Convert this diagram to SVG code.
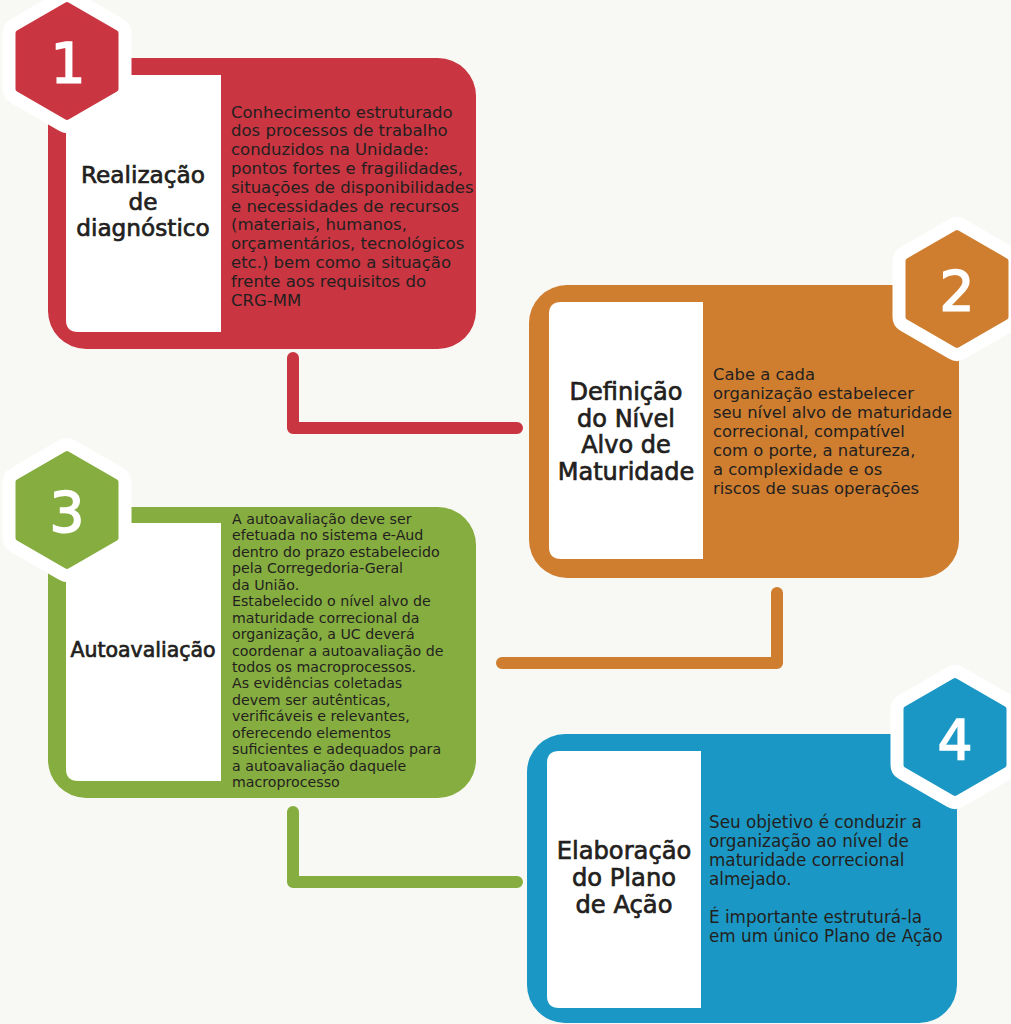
<svg xmlns="http://www.w3.org/2000/svg" width="1011" height="1024" viewBox="0 0 1011 1024">
<defs>
<style>
.bg{fill:#f8f8f4}
.panel{fill:#ffffff}
.title{font-family:"DejaVu Sans","Liberation Sans",sans-serif;fill:#231f20;stroke:#231f20;stroke-width:0.7;text-anchor:middle}
.body{font-family:"DejaVu Sans","Liberation Sans",sans-serif;fill:#231f20}
.num{font-family:"DejaVu Sans","Liberation Sans",sans-serif;fill:#ffffff;stroke:#ffffff;stroke-width:1.6;text-anchor:middle;font-size:55px}
.hexw{fill:#ffffff;stroke:#ffffff;stroke-width:32;stroke-linejoin:round}
.conn{fill:none;stroke-width:12;stroke-linecap:round;stroke-linejoin:round}
.red{fill:#c93540}
.orange{fill:#cf7e2f}
.green{fill:#86ad3f}
.blue{fill:#1a97c4}
</style>
<polygon id="hex" points="0,-56 48.5,-28 48.5,28 0,56 -48.5,28 -48.5,-28"/>
</defs>
<rect class="bg" x="0" y="0" width="1011" height="1024"/>

<g id="connectors">
<polyline class="conn" stroke="#c93540" points="293,358 293,428 517,428"/>
<polyline class="conn" stroke="#cf7e2f" points="777,593 777,663 502,663"/>
<polyline class="conn" stroke="#86ad3f" points="293,812 293,882 517,882"/>
</g>

<g id="node1">
<rect class="red" x="48" y="58" width="428" height="291" rx="38"/>
<path class="panel" d="M78,75 H221 V332 H78 Q66,332 66,320 V87 Q66,75 78,75 Z"/>
<text class="title" font-size="23.2"><tspan x="143" y="183">Realização</tspan><tspan x="143" y="209.5">de</tspan><tspan x="143" y="236">diagnóstico</tspan></text>
<text class="body" font-size="16.5">
<tspan x="231" y="117.5">Conhecimento estruturado</tspan>
<tspan x="231" y="136.3">dos processos de trabalho</tspan>
<tspan x="231" y="155.1">conduzidos na Unidade:</tspan>
<tspan x="231" y="173.9">pontos fortes e fragilidades,</tspan>
<tspan x="231" y="192.7">situações de disponibilidades</tspan>
<tspan x="231" y="211.5">e necessidades de recursos</tspan>
<tspan x="231" y="230.3">(materiais, humanos,</tspan>
<tspan x="231" y="249.1">orçamentários, tecnológicos</tspan>
<tspan x="231" y="267.9">etc.) bem como a situação</tspan>
<tspan x="231" y="286.7">frente aos requisitos do</tspan>
<tspan x="231" y="305.5">CRG-MM</tspan>
</text>
<use href="#hex" class="hexw" x="67" y="61"/>
<use href="#hex" class="red" x="67" y="61" stroke="#c93540" stroke-width="6" stroke-linejoin="round"/>
<text class="num" x="68" y="82">1</text>
</g>

<g id="node2">
<rect class="orange" x="529" y="285" width="430" height="293" rx="38"/>
<path class="panel" d="M561,302 H703 V559 H561 Q549,559 549,547 V314 Q549,302 561,302 Z"/>
<text class="title" font-size="24"><tspan x="626" y="400">Definição</tspan><tspan x="626" y="427">do Nível</tspan><tspan x="626" y="453">Alvo de</tspan><tspan x="626" y="480">Maturidade</tspan></text>
<text class="body" font-size="16.4">
<tspan x="713" y="380">Cabe a cada</tspan>
<tspan x="713" y="399">organização estabelecer</tspan>
<tspan x="713" y="418">seu nível alvo de maturidade</tspan>
<tspan x="713" y="437">correcional, compatível</tspan>
<tspan x="713" y="456">com o porte, a natureza,</tspan>
<tspan x="713" y="475">a complexidade e os</tspan>
<tspan x="713" y="494">riscos de suas operações</tspan>
</text>
<use href="#hex" class="hexw" x="957" y="289"/>
<use href="#hex" class="orange" x="957" y="289" stroke="#cf7e2f" stroke-width="6" stroke-linejoin="round"/>
<text class="num" x="957" y="310">2</text>
</g>

<g id="node3">
<rect class="green" x="48" y="507" width="428" height="291" rx="38"/>
<path class="panel" d="M78,523 H221 V781 H78 Q66,781 66,769 V535 Q66,523 78,523 Z"/>
<text class="title" font-size="20.5" x="143" y="657">Autoavaliação</text>
<text class="body" font-size="14.2">
<tspan x="232" y="524">A autoavaliação deve ser</tspan>
<tspan x="232" y="540.4">efetuada no sistema e-Aud</tspan>
<tspan x="232" y="556.9">dentro do prazo estabelecido</tspan>
<tspan x="232" y="573.3">pela Corregedoria-Geral</tspan>
<tspan x="232" y="589.8">da União.</tspan>
<tspan x="232" y="606.2">Estabelecido o nível alvo de</tspan>
<tspan x="232" y="622.6">maturidade correcional da</tspan>
<tspan x="232" y="639.1">organização, a UC deverá</tspan>
<tspan x="232" y="655.5">coordenar a autoavaliação de</tspan>
<tspan x="232" y="672">todos os macroprocessos.</tspan>
<tspan x="232" y="688.4">As evidências coletadas</tspan>
<tspan x="232" y="704.8">devem ser autênticas,</tspan>
<tspan x="232" y="721.3">verificáveis e relevantes,</tspan>
<tspan x="232" y="737.7">oferecendo elementos</tspan>
<tspan x="232" y="754.2">suficientes e adequados para</tspan>
<tspan x="232" y="770.6">a autoavaliação daquele</tspan>
<tspan x="232" y="787">macroprocesso</tspan>
</text>
<use href="#hex" class="hexw" x="67" y="510"/>
<use href="#hex" class="green" x="67" y="510" stroke="#86ad3f" stroke-width="6" stroke-linejoin="round"/>
<text class="num" x="67" y="531">3</text>
</g>

<g id="node4">
<rect class="blue" x="527" y="734" width="430" height="289" rx="38"/>
<path class="panel" d="M559,751 H701 V1008 H559 Q547,1008 547,996 V763 Q547,751 559,751 Z"/>
<text class="title" font-size="24.2"><tspan x="624" y="859">Elaboração</tspan><tspan x="624" y="886">do Plano</tspan><tspan x="624" y="913">de Ação</tspan></text>
<text class="body" font-size="16.8">
<tspan x="709" y="828">Seu objetivo é conduzir a</tspan>
<tspan x="709" y="847">organização ao nível de</tspan>
<tspan x="709" y="866">maturidade correcional</tspan>
<tspan x="709" y="885">almejado.</tspan>
<tspan x="709" y="923">É importante estruturá-la</tspan>
<tspan x="709" y="942">em um único Plano de Ação</tspan>
</text>
<use href="#hex" class="hexw" x="955" y="737"/>
<use href="#hex" class="blue" x="955" y="737" stroke="#1a97c4" stroke-width="6" stroke-linejoin="round"/>
<text class="num" x="955" y="759">4</text>
</g>
</svg>
